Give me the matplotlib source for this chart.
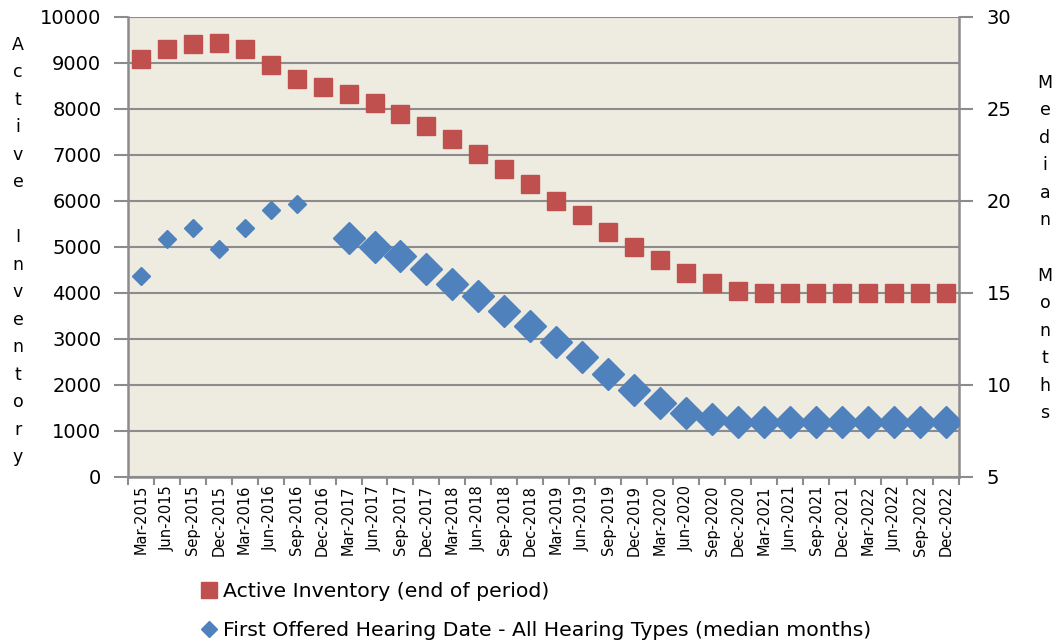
import matplotlib
matplotlib.use('Agg')
from matplotlib import pyplot as plt
from matplotlib.lines import Line2D

# quarter labels along the bottom
quarters = ['Mar-2015', 'Jun-2015', 'Sep-2015', 'Dec-2015',
            'Mar-2016', 'Jun-2016', 'Sep-2016', 'Dec-2016',
            'Mar-2017', 'Jun-2017', 'Sep-2017', 'Dec-2017',
            'Mar-2018', 'Jun-2018', 'Sep-2018', 'Dec-2018',
            'Mar-2019', 'Jun-2019', 'Sep-2019', 'Dec-2019',
            'Mar-2020', 'Jun-2020', 'Sep-2020', 'Dec-2020',
            'Mar-2021', 'Jun-2021', 'Sep-2021', 'Dec-2021',
            'Mar-2022', 'Jun-2022', 'Sep-2022', 'Dec-2022']

# active inventory, end of period (left axis)
inventory = [9090, 9290, 9400, 9420, 9290, 8950, 8650, 8480,
             8330, 8130, 7880, 7620, 7340, 7010, 6690, 6360,
             5990, 5690, 5330, 5000, 4710, 4435, 4220, 4030,
             4000, 4000, 4000, 4000, 4000, 4000, 4000, 4000]

# median months, actual (small diamonds) and projected (large diamonds)
actual_idx = [0, 1, 2, 3, 4, 5, 6]
actual_months = [15.9, 17.9, 18.5, 17.4, 18.5, 19.5, 19.8]
proj_idx = list(range(8, 32))
proj_months = [18.0, 17.5, 17.0, 16.3, 15.5, 14.8, 14.0, 13.2,
               12.3, 11.5, 10.6, 9.7, 9.0, 8.45, 8.15, 8.0,
               8.0, 8.0, 8.0, 8.0, 8.0, 8.0, 8.0, 8.0]

red = '#C0504D'
blue = '#4F81BD'
grey = '#8C8C8C'

fig = plt.figure(figsize=(10.6, 6.43), dpi=100)
ax = fig.add_axes([0.1205, 0.2586, 0.7842, 0.7154])
ax.set_facecolor('#EEECE1')

x = list(range(len(quarters)))
ax.plot(x, inventory, linestyle='none', marker='s', markersize=13,
        color=red, markeredgecolor=red, zorder=3)
ax.set_ylim(0, 10000)
ax.set_yticks(range(0, 10001, 1000))
ax.set_xlim(-0.5, len(quarters) - 0.5)
ax.set_xticks(x)
ax.set_xticklabels(quarters, rotation=90, fontsize=10.5)
ax.set_xticks([i - 0.5 for i in range(len(quarters) + 1)], minor=True)
ax.tick_params(axis='x', which='major', length=0, pad=6)
ax.tick_params(axis='x', which='minor', length=6, color=grey, width=1.5)
ax.tick_params(axis='y', length=10, color=grey, width=1.5, labelsize=14, pad=9)
ax.grid(axis='y', color=grey, linewidth=1.5)
ax.set_axisbelow(True)
for s in ax.spines.values():
    s.set_color(grey)
    s.set_linewidth(1.8)
ax.spines['top'].set_visible(False)

ax2 = ax.twinx()
ax2.plot(actual_idx, actual_months, linestyle='none', marker='D', markersize=9.5,
         color=blue, zorder=3)
ax2.plot(proj_idx, proj_months, linestyle='none', marker='D', markersize=16,
         color=blue, zorder=3)
ax2.set_ylim(5, 30)
ax2.set_yticks(range(5, 31, 5))
ax2.tick_params(axis='y', length=10, color=grey, width=1.5, labelsize=14, pad=10)
for s in ax2.spines.values():
    s.set_visible(False)

# stacked letter axis titles
fig.text(18 / 1060, 1 - 251 / 643, '\n'.join('Active Inventory'), ha='center',
         va='center', fontsize=12.5, linespacing=1.68)
fig.text(1045 / 1060, 1 - 248 / 643, '\n'.join('Median Months'), ha='center',
         va='center', fontsize=12.5, linespacing=1.68)

handles = [Line2D([], [], linestyle='none', marker='s', markersize=12, color=red),
           Line2D([], [], linestyle='none', marker='D', markersize=8, color=blue)]
labels = ['Active Inventory (end of period)',
          'First Offered Hearing Date - All Hearing Types (median months)']
fig.legend(handles, labels, loc='center left', bbox_to_anchor=(190 / 1060, 1 - 611 / 643),
           frameon=False, fontsize=14.7, handlelength=0.9, handletextpad=0.2,
           labelspacing=0.95, borderpad=0)

fig.savefig('out.png', dpi=100)
